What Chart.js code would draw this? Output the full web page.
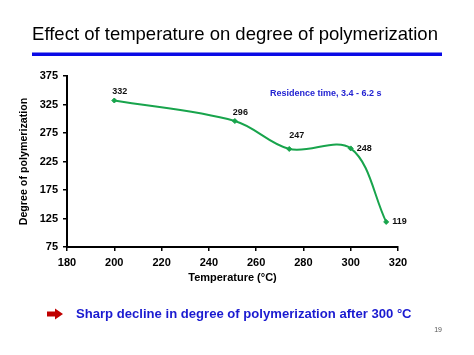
<!DOCTYPE html>
<html>
<head>
<meta charset="utf-8">
<script src="https://cdn.jsdelivr.net/npm/chart.js@4"></script>
<style>
html,body{margin:0;padding:0;background:#fff;}
#wrap{position:relative;width:474px;height:355px;}
canvas{display:block;}
</style>
</head>
<body>
<div id="wrap"><canvas id="c" width="474" height="355"></canvas></div>
<script>
const temperatures = [200, 251, 274, 300, 315];
const polymerization = [332, 296, 247, 248, 119];
const xTicks = [180, 200, 220, 240, 260, 280, 300, 320];
const yTicks = [75, 125, 175, 225, 275, 325, 375];
const titleText = 'Effect of temperature on degree of polymerization';
const noteText = 'Residence time, 3.4 - 6.2 s';
const footerText = 'Sharp decline in degree of polymerization after 300 \u00B0C';
const pageNumber = '19';
const labelAnchor = ['top', 'top', 'top2', 'right', 'right'];

const FONT = '"Liberation Sans", Arial, sans-serif';

const decor = {
  id: 'decor',
  afterDraw(chart) {
    const ctx = chart.ctx;
    ctx.save();
    // title
    ctx.fillStyle = '#000';
    ctx.font = '18.5px ' + FONT;
    ctx.textAlign = 'center';
    ctx.textBaseline = 'alphabetic';
    ctx.fillText(titleText, 235, 40);
    // underline
    ctx.fillStyle = '#0a0ae6';
    ctx.fillRect(32, 52.5, 410, 3.5);
    // note
    ctx.fillStyle = '#2323d2';
    ctx.font = 'bold 9px ' + FONT;
    ctx.textAlign = 'left';
    ctx.textBaseline = 'middle';
    ctx.fillText(noteText, 270, 94);
    // data labels
    const meta = chart.getDatasetMeta(0);
    ctx.fillStyle = '#111';
    ctx.font = 'bold 9px ' + FONT;
    meta.data.forEach((pt, i) => {
      const a = labelAnchor[i];
      const v = String(polymerization[i]);
      ctx.textAlign = 'left';
      ctx.textBaseline = 'middle';
      if (a === 'top') ctx.fillText(v, pt.x - 2, pt.y - 8.5);
      else if (a === 'top2') ctx.fillText(v, pt.x, pt.y - 13);
      else ctx.fillText(v, pt.x + 6, pt.y);
    });
    // arrow
    ctx.fillStyle = '#c00000';
    ctx.beginPath();
    ctx.moveTo(47, 311.5);
    ctx.lineTo(55, 311.5);
    ctx.lineTo(55, 308.5);
    ctx.lineTo(63, 314);
    ctx.lineTo(55, 319.5);
    ctx.lineTo(55, 316.5);
    ctx.lineTo(47, 316.5);
    ctx.closePath();
    ctx.fill();
    // footer
    ctx.fillStyle = '#1a1ad0';
    ctx.font = 'bold 13.1px ' + FONT;
    ctx.textAlign = 'left';
    ctx.textBaseline = 'middle';
    ctx.fillText(footerText, 76, 314);
    // page number
    ctx.fillStyle = '#555';
    ctx.font = '7px ' + FONT;
    ctx.textAlign = 'right';
    ctx.fillText(pageNumber, 442, 330);
    ctx.restore();
  }
};

new Chart(document.getElementById('c'), {
  type: 'line',
  data: {
    datasets: [{
      data: temperatures.map((t, i) => ({x: t, y: polymerization[i]})),
      borderColor: '#18a44c',
      backgroundColor: '#18a44c',
      borderWidth: 2,
      tension: 0.35,
      pointStyle: 'rectRot',
      pointRadius: 2.5,
      pointBorderWidth: 1,
      fill: false
    }]
  },
  options: {
    responsive: false,
    animation: false,
    devicePixelRatio: 1,
    layout: {padding: {left: 0, right: 76, top: 76, bottom: 68}},
    plugins: {legend: {display: false}, tooltip: {enabled: false}},
    scales: {
      x: {
        type: 'linear',
        min: 180, max: 320,
        afterBuildTicks(s) { s.ticks = xTicks.map(v => ({value: v})); },
        afterFit(s) { s.height = 40; },
        border: {color: '#000', width: 2},
        grid: {drawOnChartArea: false, drawTicks: true, tickLength: 4, color: '#000', lineWidth: 1.5},
        ticks: {color: '#000', font: {family: FONT, size: 11, weight: 'bold'}, padding: 5, maxRotation: 0},
        title: {display: true, text: 'Temperature (\u00B0C)', color: '#000', font: {family: FONT, size: 11, weight: 'bold'}, padding: {top: 0, bottom: 2}}
      },
      y: {
        type: 'linear',
        min: 75, max: 375,
        afterBuildTicks(s) { s.ticks = yTicks.map(v => ({value: v})); },
        afterFit(s) { s.width = 67; },
        border: {color: '#000', width: 2},
        grid: {drawOnChartArea: false, drawTicks: true, tickLength: 4, color: '#000', lineWidth: 1.5},
        ticks: {color: '#000', font: {family: FONT, size: 11, weight: 'bold'}, padding: 5},
        title: {display: true, text: 'Degree of polymerization', color: '#000', font: {family: FONT, size: 10.7, weight: 'bold'}, padding: {top: 18, bottom: 0}}
      }
    }
  },
  plugins: [decor]
});
</script>
</body>
</html>
